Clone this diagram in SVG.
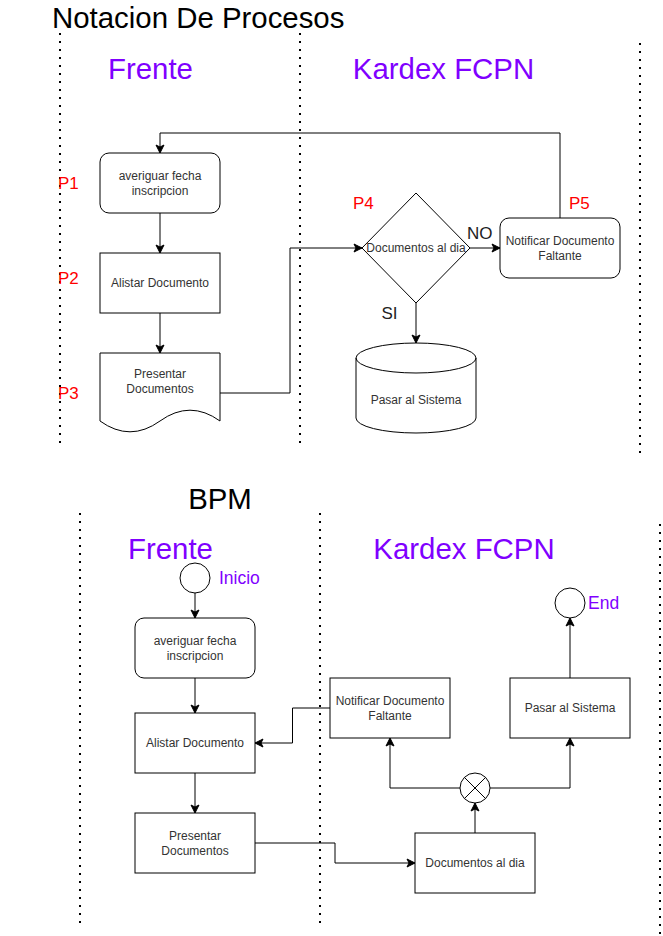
<svg xmlns="http://www.w3.org/2000/svg" width="663" height="936" viewBox="0 0 663 936">
<defs>
<style>
text{font-family:"Liberation Sans",Arial,sans-serif}
.head{font-size:29.4px;fill:#000}
.lane{font-size:29.4px;fill:#7F00FF;text-anchor:middle}
.ev{font-size:17.5px;fill:#7F00FF}
.p{font-size:17px;fill:#FF0000}
.lbl{font-size:17px;fill:#222}
.t{font-size:12px;fill:#333;text-anchor:middle}
.shape{fill:#fff;stroke:#000;stroke-width:1}
.dot{stroke:#000;stroke-width:2;stroke-dasharray:2 6;fill:none}
.edge{fill:none;stroke:#000;stroke-width:1}
.arr{marker-end:url(#ah)}
</style>
<marker id="ah" markerUnits="userSpaceOnUse" markerWidth="12" markerHeight="12" viewBox="-10 -6 12 12" refX="0" refY="0" orient="auto">
<path d="M-8,-4 L0,0 L-8,4 L-6,0 Z" fill="#000" stroke="#000" stroke-width="1"/>
</marker>
</defs>
<rect width="663" height="936" fill="#fff"/>

<g id="lanes">
<line class="dot" x1="60" y1="33" x2="60" y2="443"/>
<line class="dot" x1="300" y1="33" x2="300" y2="443"/>
<line class="dot" x1="640" y1="43" x2="640" y2="453"/>
<line class="dot" x1="80" y1="513" x2="80" y2="923"/>
<line class="dot" x1="320" y1="513" x2="320" y2="923"/>
<line class="dot" x1="660" y1="524" x2="660" y2="934"/>
</g>

<g id="titles">
<text class="head" x="52" y="28">Notacion De Procesos</text>
<text class="lane" x="150.5" y="79">Frente</text>
<text class="lane" x="443.5" y="79">Kardex FCPN</text>
<text class="head" x="220" y="509" text-anchor="middle">BPM</text>
<text class="lane" x="170.5" y="559">Frente</text>
<text class="lane" x="464" y="559">Kardex FCPN</text>
</g>

<g id="labels">
<text class="p" x="58" y="188.5">P1</text>
<text class="p" x="58" y="284">P2</text>
<text class="p" x="58" y="399">P3</text>
<text class="p" x="353" y="209">P4</text>
<text class="p" x="569" y="209">P5</text>
<text class="p" x="404" y="364">P8</text>
<text class="lbl" x="467" y="239">NO</text>
<text class="lbl" x="381.5" y="319">SI</text>
</g>

<g id="connectors">
<polyline class="edge arr" points="160,213 160,253"/>
<polyline class="edge arr" points="160,313 160,353"/>
<polyline class="edge arr" points="220,393 290,393 290,248 362,248"/>
<polyline class="edge arr" points="470,248 500,248"/>
<polyline class="edge arr" points="416,303 416,343"/>
<polyline class="edge arr" points="560,218 560,133 160,133 160,153"/>

<polyline class="edge arr" points="195,593 195,618"/>
<polyline class="edge arr" points="195,678 195,713"/>
<polyline class="edge arr" points="195,773 195,813"/>
<polyline class="edge arr" points="330,708 292.5,708 292.5,743 255,743"/>
<polyline class="edge arr" points="255,843 335,843 335,863 415,863"/>
<polyline class="edge arr" points="475,833 475,803"/>
<polyline class="edge arr" points="460,788 390,788 390,738"/>
<polyline class="edge arr" points="490,788 570,788 570,738"/>
<polyline class="edge arr" points="570,678 570,618"/>
</g>

<g id="n-p1">
<rect class="shape" x="100" y="153" width="120" height="60" rx="9"/>
<text class="t" x="160" y="180">averiguar fecha</text>
<text class="t" x="160" y="195">inscripcion</text>
</g>
<g id="n-p2">
<rect class="shape" x="100" y="253" width="120" height="60"/>
<text class="t" x="160" y="287">Alistar Documento</text>
</g>
<g id="n-p3">
<path class="shape" d="M100,353 H220 V421 Q190,399.4 160,421 Q130,442.6 100,421 Z"/>
<text class="t" x="160" y="377.5">Presentar</text>
<text class="t" x="160" y="392.5">Documentos</text>
</g>
<g id="n-p4">
<path class="shape" d="M416,193 L470,248 L416,303 L362,248 Z"/>
<text class="t" x="416" y="252">Documentos al dia</text>
</g>
<g id="n-p5">
<rect class="shape" x="500" y="218" width="120" height="60" rx="9"/>
<text class="t" x="560" y="245">Notificar Documento</text>
<text class="t" x="560" y="260">Faltante</text>
</g>
<g id="n-p8">
<path class="shape" d="M356,358 A60,15 0 0 1 476,358 V418 A60,15 0 0 1 356,418 Z"/>
<path class="edge" d="M356,358 A60,15 0 0 0 476,358"/>
<text class="t" x="416" y="404">Pasar al Sistema</text>
</g>

<g id="b-inicio">
<circle class="shape" cx="195" cy="578" r="15"/>
<text class="ev" x="219" y="584">Inicio</text>
</g>
<g id="b-averiguar">
<rect class="shape" x="135" y="618" width="120" height="60" rx="9"/>
<text class="t" x="195" y="645">averiguar fecha</text>
<text class="t" x="195" y="660">inscripcion</text>
</g>
<g id="b-alistar">
<rect class="shape" x="135" y="713" width="120" height="60"/>
<text class="t" x="195" y="747">Alistar Documento</text>
</g>
<g id="b-presentar">
<rect class="shape" x="135" y="813" width="120" height="60"/>
<text class="t" x="195" y="839.5">Presentar</text>
<text class="t" x="195" y="854.5">Documentos</text>
</g>
<g id="b-notificar">
<rect class="shape" x="330" y="678" width="120" height="60"/>
<text class="t" x="390" y="704.5">Notificar Documento</text>
<text class="t" x="390" y="719.5">Faltante</text>
</g>
<g id="b-pasar">
<rect class="shape" x="510" y="678" width="120" height="60"/>
<text class="t" x="570" y="712">Pasar al Sistema</text>
</g>
<g id="b-docs">
<rect class="shape" x="415" y="833" width="120" height="60"/>
<text class="t" x="475" y="867">Documentos al dia</text>
</g>
<g id="b-gateway">
<circle class="shape" cx="475" cy="788" r="15"/>
<path class="edge" d="M464.4,777.4 L485.6,798.6 M485.6,777.4 L464.4,798.6"/>
</g>
<g id="b-end">
<circle class="shape" cx="570" cy="603" r="15"/>
<text class="ev" x="588" y="609">End</text>
</g>
</svg>
